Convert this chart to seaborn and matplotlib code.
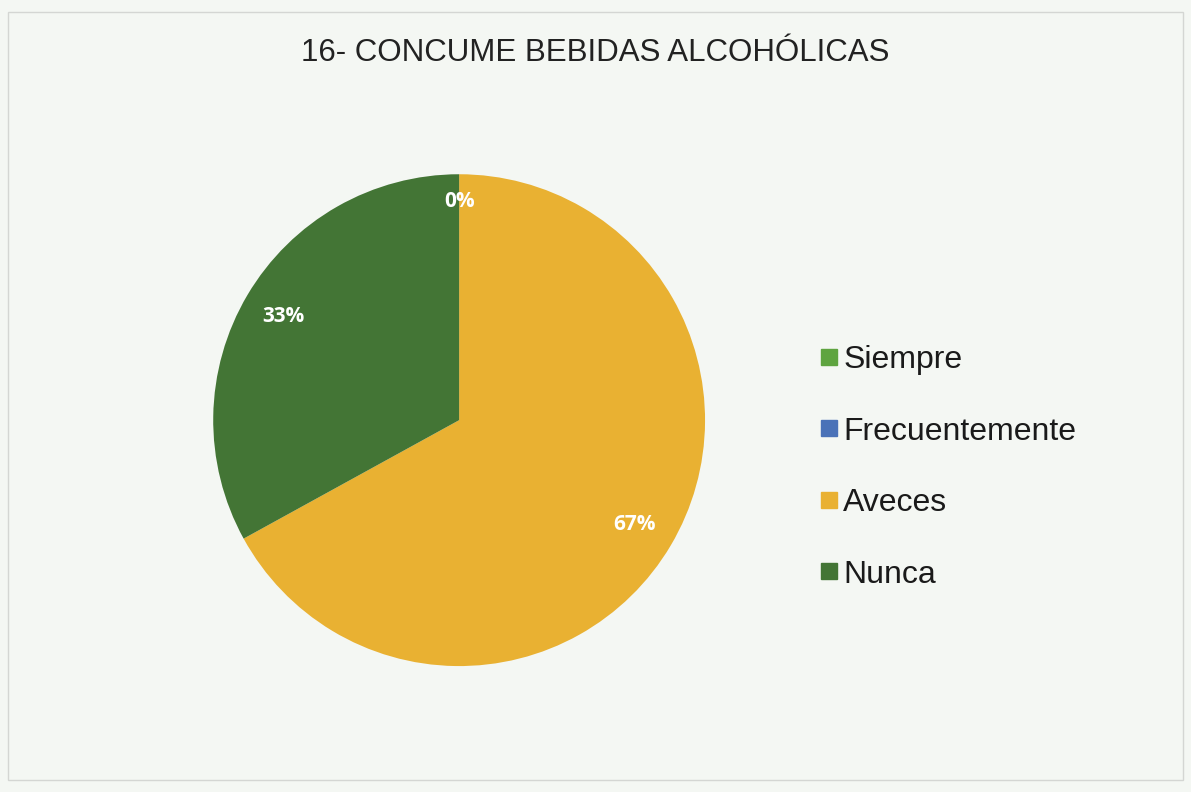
import numpy as np
import matplotlib
matplotlib.use("Agg")
import matplotlib.pyplot as plt
import seaborn as sns
from matplotlib.patches import Rectangle
from matplotlib.lines import Line2D

categories = ["Siempre", "Frecuentemente", "Aveces", "Nunca"]
values = [0, 0, 67, 33]
pct_labels = ["0%", "0%", "67%", "33%"]
colors = ["#5ea43f", "#4a72b8", "#e9b132", "#437535"]
title = "16- CONCUME BEBIDAS ALCOHÓLICAS"

sns.set_theme(style="white")
plt.rcParams["font.family"] = ["Liberation Sans", "DejaVu Sans"]

bg = "#f4f7f3"
fig = plt.figure(figsize=(11.91, 7.92), dpi=100, facecolor=bg)
fig.patches.append(Rectangle((0.007, 0.015), 0.986, 0.97, transform=fig.transFigure,
                             fill=False, edgecolor="#d4d6d3", linewidth=1.0))

ax = fig.add_axes([0.179, 0.159, 0.413, 0.621])
ax.set_facecolor(bg)
wedges, _ = ax.pie(values, colors=colors, startangle=90, counterclock=False,
                   radius=1.0, wedgeprops=dict(linewidth=0))
ax.set_xlim(-1, 1)
ax.set_ylim(-1, 1)
ax.set_aspect("equal")
ax.axis("off")

zero_done = False
for w, lab, v in zip(wedges, pct_labels, values):
    if v == 0:
        if zero_done:
            continue
        zero_done = True
    ang = np.deg2rad((w.theta1 + w.theta2) / 2)
    d = 0.89 if v == 0 else 0.83
    x, y = d * np.cos(ang), d * np.sin(ang)
    ax.text(x, y, lab, ha="center", va="center", color="white",
            fontsize=15, fontweight="bold", family=["Open Sans", "DejaVu Sans"])

fig.text(0.5, 0.933, title, ha="center", va="center", fontsize=22.5, color="#222222")

handles = [Line2D([0], [0], marker="s", linestyle="none", markersize=11,
                  markerfacecolor=c, markeredgecolor=c) for c in colors]
leg = fig.legend(handles, categories, loc="center left", bbox_to_anchor=(0.665, 0.41),
                 frameon=False, fontsize=23, handlelength=0.5, handletextpad=0.2,
                 labelspacing=1.3, labelcolor="#1a1a1a")

fig.savefig("out.png", dpi=100, facecolor=bg)
